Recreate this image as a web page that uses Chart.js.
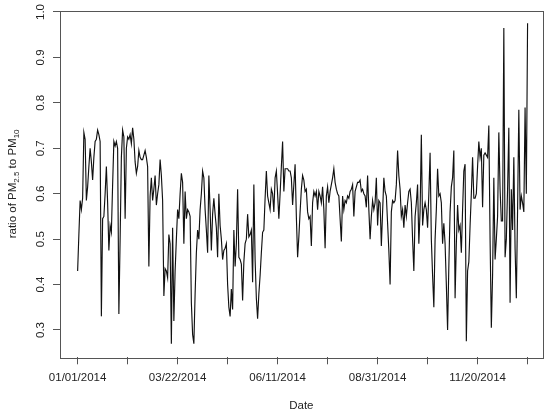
<!DOCTYPE html>
<html><head><meta charset="utf-8">
<script src="https://cdn.jsdelivr.net/npm/chart.js@4"></script>
<style>html,body{margin:0;padding:0;background:#fff;} canvas{display:block;}</style>
</head><body>
<canvas id="c" width="550" height="413"></canvas>
<script>
// Daily ratio of PM2.5 to PM10, starting 01/01/2014 (index = day offset)
const startDate = '01/01/2014';
const ratio = [
0.43,0.51,0.585,0.565,0.59,0.735,0.72,0.585,0.615,0.66,
0.70,0.67,0.63,0.68,0.715,0.72,0.74,0.73,0.715,0.33,
0.545,0.55,0.60,0.66,0.58,0.475,0.53,0.515,0.62,0.715,
0.705,0.715,0.70,0.335,0.50,0.68,0.74,0.725,0.545,0.70,
0.725,0.72,0.73,0.71,0.745,0.72,0.67,0.645,0.66,0.695,
0.68,0.675,0.675,0.685,0.695,0.68,0.66,0.44,0.595,0.635,
0.585,0.61,0.64,0.575,0.60,0.62,0.675,0.64,0.585,0.375,
0.435,0.43,0.415,0.51,0.49,0.27,0.525,0.32,0.43,0.50,
0.565,0.545,0.60,0.645,0.625,0.49,0.605,0.545,0.565,0.56,
0.55,0.36,0.29,0.27,0.38,0.47,0.52,0.50,0.565,0.60,
0.65,0.635,0.565,0.52,0.47,0.64,0.565,0.475,0.555,0.59,
0.555,0.525,0.46,0.60,0.53,0.50,0.455,0.475,0.48,0.49,
0.40,0.35,0.33,0.39,0.345,0.52,0.44,0.49,0.61,0.46,
0.455,0.445,0.365,0.45,0.49,0.50,0.555,0.505,0.51,0.52,
0.405,0.62,0.455,0.37,0.325,0.38,0.42,0.47,0.515,0.52,
0.59,0.65,0.595,0.58,0.565,0.61,0.60,0.56,0.635,0.65,
0.60,0.545,0.60,0.66,0.715,0.605,0.655,0.655,0.655,0.65,
0.65,0.635,0.575,0.62,0.665,0.55,0.46,0.505,0.56,0.61,
0.64,0.63,0.605,0.61,0.56,0.545,0.55,0.485,0.58,0.605,
0.595,0.605,0.565,0.605,0.595,0.58,0.615,0.565,0.48,0.595,
0.615,0.58,0.605,0.62,0.635,0.655,0.625,0.61,0.60,0.595,
0.545,0.495,0.595,0.565,0.585,0.58,0.595,0.59,0.605,0.61,
0.62,0.55,0.605,0.615,0.625,0.625,0.63,0.605,0.61,0.60,
0.595,0.57,0.64,0.565,0.50,0.55,0.585,0.565,0.58,0.635,
0.53,0.585,0.58,0.485,0.56,0.635,0.605,0.595,0.535,0.475,
0.40,0.56,0.585,0.58,0.585,0.62,0.695,0.64,0.61,0.55,
0.565,0.525,0.575,0.55,0.58,0.605,0.61,0.58,0.50,0.43,
0.55,0.58,0.62,0.49,0.56,0.73,0.53,0.565,0.58,0.565,
0.525,0.60,0.69,0.50,0.42,0.35,0.50,0.565,0.655,0.595,
0.60,0.58,0.49,0.535,0.49,0.40,0.30,0.44,0.56,0.615,
0.635,0.695,0.37,0.49,0.575,0.52,0.53,0.47,0.565,0.65,
0.665,0.275,0.43,0.45,0.53,0.60,0.68,0.59,0.59,0.60,
0.66,0.715,0.68,0.70,0.57,0.685,0.69,0.685,0.68,0.75,
0.50,0.305,0.42,0.635,0.455,0.50,0.55,0.735,0.61,0.54,
0.54,0.965,0.46,0.50,0.61,0.745,0.36,0.61,0.52,0.68,
0.48,0.37,0.565,0.785,0.565,0.595,0.58,0.56,0.79,0.60,
0.975
];
const xTickDays = [0,40,80,120,160,200,240,280,320,360];
const xTickLabels = ['01/01/2014','','03/22/2014','','06/11/2014','','08/31/2014','','11/20/2014',''];
const yTicks = [0.3,0.4,0.5,0.6,0.7,0.8,0.9,1.0];
const yTickLabels = ['0.3','0.4','0.5','0.6','0.7','0.8','0.9','1.0'];
const xTitle = 'Date';
const yTitleParts = [['ratio of PM',false],['2.5',true],[' to PM',false],['10',true]];

const FONT = '"Liberation Sans", Arial, Helvetica, sans-serif';
const TEXT = '#222';
const FRAME = '#555';

const rbase = {
  id: 'rbase',
  afterDraw(chart) {
    const ctx = chart.ctx, a = chart.chartArea, ys = chart.scales.y;
    ctx.save();
    ctx.strokeStyle = FRAME; ctx.lineWidth = 1;
    ctx.strokeRect(Math.round(a.left) + 0.5, Math.round(a.top) + 0.5,
                   Math.round(a.right - a.left), Math.round(a.bottom - a.top));
    ctx.fillStyle = TEXT;
    ctx.font = '11.5px ' + FONT;
    ctx.textAlign = 'center'; ctx.textBaseline = 'middle';
    yTicks.forEach((v, i) => {
      const y = ys.getPixelForValue(v);
      ctx.save(); ctx.translate(41, y); ctx.rotate(-Math.PI / 2);
      ctx.fillText(yTickLabels[i], 0, 0); ctx.restore();
    });
    ctx.fillText(xTitle, (a.left + a.right) / 2, 406);
    // y title with subscripts
    const big = '11.5px ' + FONT, small = '8px ' + FONT;
    let total = 0;
    yTitleParts.forEach(p => { ctx.font = p[1] ? small : big; total += ctx.measureText(p[0]).width; });
    ctx.save();
    ctx.translate(12, (a.top + a.bottom) / 2);
    ctx.rotate(-Math.PI / 2);
    ctx.textAlign = 'left'; ctx.textBaseline = 'alphabetic';
    let xp = -total / 2;
    yTitleParts.forEach(p => {
      ctx.font = p[1] ? small : big;
      ctx.fillText(p[0], xp, p[1] ? 7 : 4);
      xp += ctx.measureText(p[0]).width;
    });
    ctx.restore();
    ctx.restore();
  }
};

const gridOpts = { drawOnChartArea: false, drawTicks: true, tickLength: 7, color: FRAME, lineWidth: 1 };

new Chart(document.getElementById('c'), {
  type: 'line',
  data: { datasets: [{
    data: ratio.map((v, i) => ({ x: i, y: v })),
    borderColor: '#111', borderWidth: 1.15, pointRadius: 0, tension: 0, fill: false
  }]},
  options: {
    responsive: false, animation: false, devicePixelRatio: 1,
    layout: { padding: { top: 10.5, right: 7.3, left: 0, bottom: 0 } },
    plugins: { legend: { display: false }, tooltip: { enabled: false } },
    scales: {
      x: {
        type: 'linear', min: -14.1, max: 372.1,
        afterBuildTicks(s) { s.ticks = xTickDays.map(v => ({ value: v })); },
        afterFit(s) { s.height = 55.7; },
        ticks: { autoSkip: false, maxRotation: 0, minRotation: 0, padding: 7, color: TEXT,
                 font: { family: FONT, size: 11.5 },
                 callback: (v, i) => xTickLabels[i] },
        grid: gridOpts,
        border: { display: false }
      },
      y: {
        type: 'linear', min: 0.2399, max: 1.0033,
        afterBuildTicks(s) { s.ticks = yTicks.map(v => ({ value: v })); },
        afterFit(s) { s.width = 60; },
        ticks: { callback: () => '', padding: 0 },
        grid: gridOpts,
        border: { display: false }
      }
    }
  },
  plugins: [rbase]
});
</script>
</body></html>
